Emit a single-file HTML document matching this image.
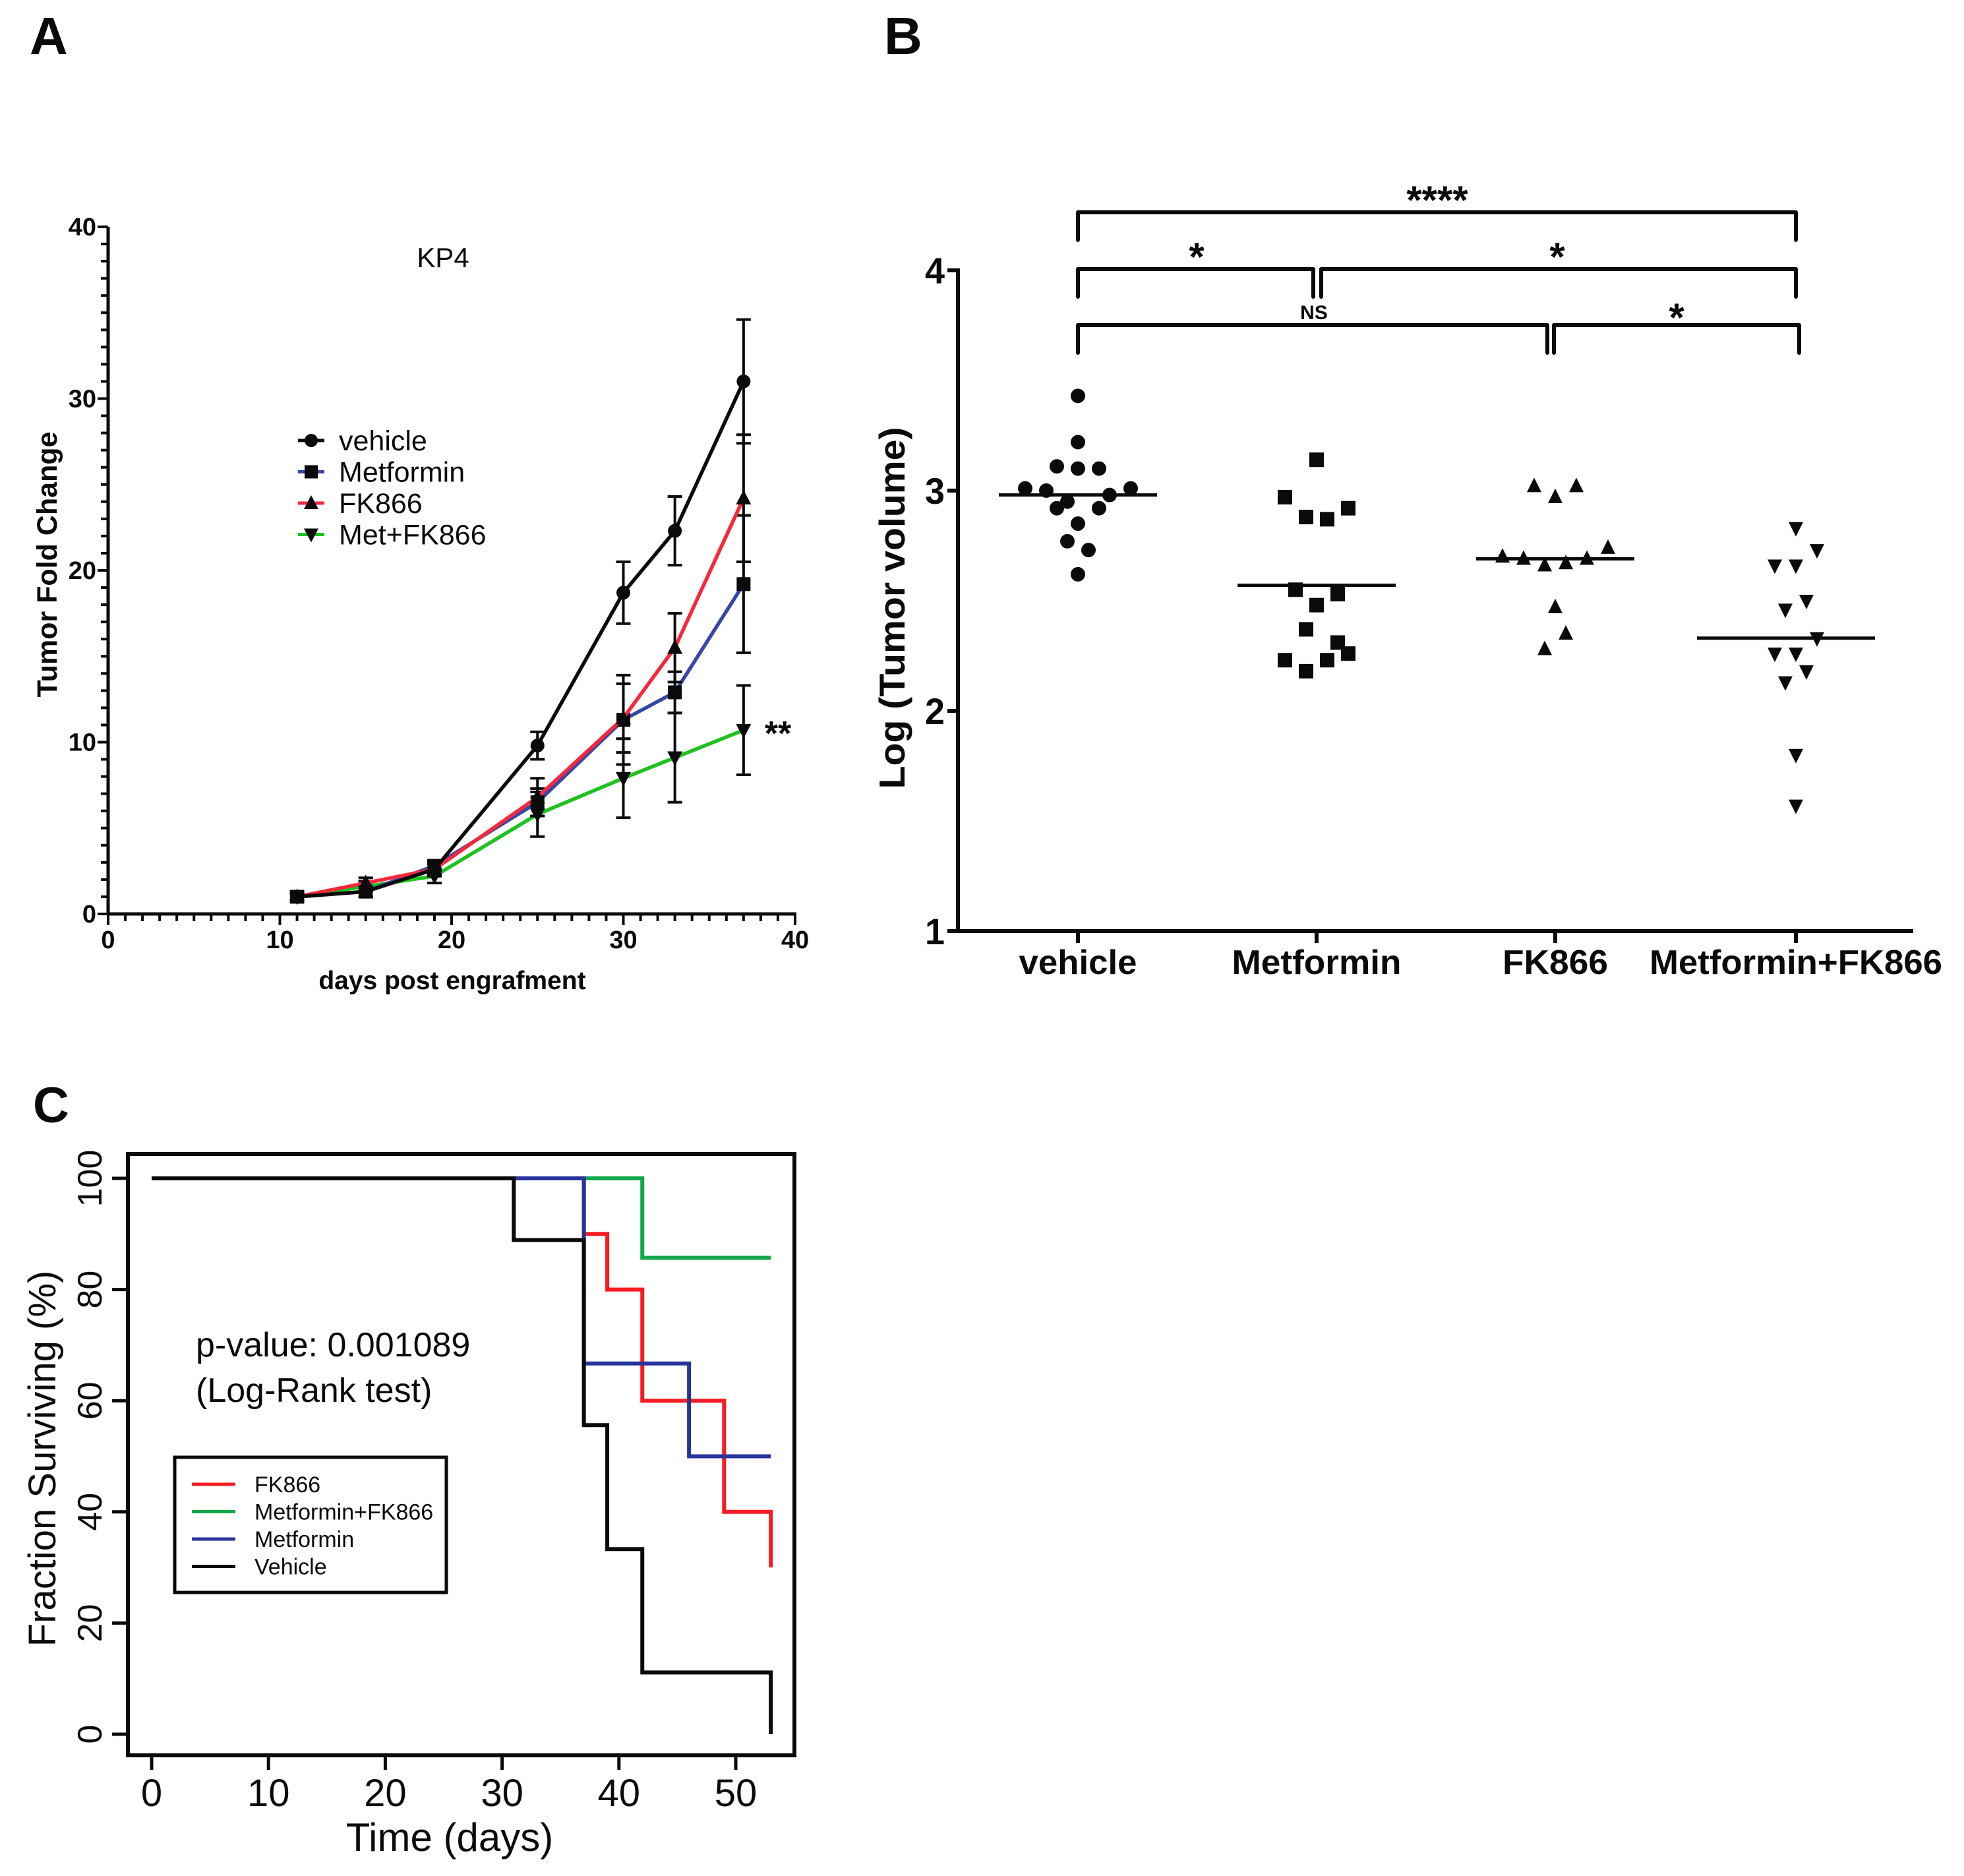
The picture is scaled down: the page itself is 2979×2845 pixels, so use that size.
<!DOCTYPE html>
<html><head><meta charset="utf-8"><style>
html,body{margin:0;padding:0;background:#fff;}
svg{display:block;}
text{font-family:"Liberation Sans",Arial,sans-serif;fill:#0a0a0a;}
</style></head><body>
<svg id="fig" xmlns="http://www.w3.org/2000/svg" width="2979" height="2845" viewBox="0 0 2979 2845">
<rect width="2979" height="2845" fill="#fff"/>
<text x="45" y="82" font-size="80" font-weight="bold">A</text>
<text x="1341" y="82" font-size="80" font-weight="bold">B</text>
<text x="50" y="1702" font-size="76" font-weight="bold">C</text>
<g id="pa"></g>
<g id="pb"></g>
<g id="pc" transform="translate(-6,-8)"></g>
</svg>
<script>
// ---------- Panel A data ----------
const aDays = [11, 15, 19, 25, 30, 33, 37];
const aVehicle = [1.0, 1.3, 2.6, 9.8, 18.7, 22.3, 31.0];
const aVehicleErr = [0.2, 0.3, 0.4, 0.8, 1.8, 2.0, 3.6];
const aMetformin = [1.0, 1.3, 2.8, 6.5, 11.3, 12.9, 19.2];
const aMetforminErr = [0.2, 0.3, 0.3, 0.8, 2.6, 1.2, 4.0];
const aFK866 = [1.0, 1.8, 2.6, 6.8, 11.4, 15.5, 24.2];
const aFK866Err = [0.2, 0.3, 0.3, 1.1, 2.0, 2.0, 3.7];
const aMetFK = [1.0, 1.6, 2.2, 5.8, 7.9, 9.1, 10.7];
const aMetFKErr = [0.2, 0.3, 0.4, 1.3, 2.3, 2.6, 2.6];
const aYTicks = [0, 10, 20, 30, 40];
const aXTicks = [0, 10, 20, 30, 40];
const aLegend = ["vehicle", "Metformin", "FK866", "Met+FK866"];

// ---------- Panel B data ----------
const bCategories = ["vehicle", "Metformin", "FK866", "Metformin+FK866"];
const bVehicle = [3.43, 3.22, 3.11, 3.10, 3.10, 3.01, 3.00, 3.01, 2.95, 2.98, 2.92, 2.92, 2.85, 2.77, 2.73, 2.62];
const bVehicleJit = [0, 0, -2, 0, 2, -5, -3, 5, -1, 3, -2, 2, 0, -1, 1, 0];
const bMetformin = [3.14, 2.97, 2.92, 2.88, 2.87, 2.55, 2.53, 2.48, 2.37, 2.31, 2.26, 2.23, 2.23, 2.18];
const bMetforminJit = [0, -3, 3, -1, 1, -2, 2, 0, -1, 2, 3, -3, 1, -1];
const bFK866 = [3.02, 3.02, 2.97, 2.70, 2.69, 2.66, 2.67, 2.69, 2.74, 2.47, 2.35, 2.28];
const bFK866Jit = [-2, 2, 0, -5, -3, -1, 1, 3, 5, 0, 1, -1];
const bMetFK = [2.83, 2.73, 2.66, 2.66, 2.50, 2.46, 2.33, 2.26, 2.26, 2.18, 2.13, 1.80, 1.57];
const bMetFKJit = [0, 2, -2, 0, 1, -1, 2, -2, 0, 1, -1, 0, 0];
const bMedians = [2.98, 2.57, 2.69, 2.33];
const bYTicks = [1, 2, 3, 4];

// ---------- Panel C data ----------
const cVehicleT = [0, 31, 37, 39, 42, 53];
const cVehicleS = [100, 88.9, 55.6, 33.3, 11.1, 0];
const cMetforminT = [0, 37, 46, 53];
const cMetforminS = [100, 66.7, 50, 50];
const cFK866T = [0, 37, 39, 42, 49, 53];
const cFK866S = [100, 90, 80, 60, 40, 30];
const cMetFKT = [0, 42, 53];
const cMetFKS = [100, 85.7, 85.7];
const cXTicks = [0, 10, 20, 30, 40, 50];
const cYTicks = [0, 20, 40, 60, 80, 100];
const cLegend = ["FK866", "Metformin+FK866", "Metformin", "Vehicle"];

const NS = "http://www.w3.org/2000/svg";
function mk(parent, tag, attrs, txt) {
  const e = document.createElementNS(NS, tag);
  for (const k in attrs) e.setAttribute(k, attrs[k]);
  if (txt !== undefined) e.textContent = txt;
  parent.appendChild(e);
  return e;
}
const BLK = "#0a0a0a";

// ================= Panel A =================
(function () {
  const g = document.getElementById("pa");
  const X = d => 164 + d * 26.05;
  const Y = v => 1386 - v * 26.05;
  let ax = mk(g, "line", {x1: 164, y1: 344, x2: 164, y2: 1388, stroke: BLK, "stroke-width": 5});
  
  
  ax = mk(g, "line", {x1: 162, y1: 1386, x2: 1208, y2: 1386, stroke: BLK, "stroke-width": 5});
  
  
  for (let v = 0; v <= 40; v++) {
    const major = v % 10 === 0;
    const t = mk(g, "line", {x1: 164 - (major ? 16 : 11), y1: Y(v), x2: 164, y2: Y(v), stroke: BLK, "stroke-width": 4});
    
    
    const u = mk(g, "line", {x1: X(v), y1: 1386, x2: X(v), y2: 1386 + (major ? 17 : 11), stroke: BLK, "stroke-width": 4});
    
    
  }
  aYTicks.forEach(v => {
    const t = mk(g, "text", {x: 146, y: Y(v) + 13, "font-size": 38, "font-weight": "bold", "text-anchor": "end"}, v);
    
    
  });
  aXTicks.forEach(v => {
    const t = mk(g, "text", {x: X(v), y: 1438, "font-size": 38, "font-weight": "bold", "text-anchor": "middle"}, v);
    
    
  });
  let t = mk(g, "text", {x: 686, y: 1500, "font-size": 39, "font-weight": "bold", "text-anchor": "middle"}, "days post engrafment");
  
  
  t = mk(g, "text", {x: 0, y: 0, "font-size": 43, "font-weight": "bold", "text-anchor": "middle", transform: "translate(86,856) rotate(-90)"}, "Tumor Fold Change");
  
  
  t = mk(g, "text", {x: 672, y: 405, "font-size": 42, "text-anchor": "middle"}, "KP4");
  
  

  function marker(parent, shape, cx, cy, s, color) {
    let m;
    if (shape === "circle") m = mk(parent, "circle", {cx: cx, cy: cy, r: s / 2, fill: color});
    else if (shape === "square") m = mk(parent, "rect", {x: cx - s / 2, y: cy - s / 2, width: s, height: s, fill: color});
    else if (shape === "up") m = mk(parent, "polygon", {points: `${cx},${cy - s * 0.6} ${cx - s * 0.55},${cy + s * 0.45} ${cx + s * 0.55},${cy + s * 0.45}`, fill: color});
    else m = mk(parent, "polygon", {points: `${cx},${cy + s * 0.6} ${cx - s * 0.55},${cy - s * 0.45} ${cx + s * 0.55},${cy - s * 0.45}`, fill: color});
    return m;
  }
  const series = [
    {name: "met-fk866", vals: aMetFK, err: aMetFKErr, col: "#1ec21e", shape: "down"},
    {name: "metformin", vals: aMetformin, err: aMetforminErr, col: "#3548a6", shape: "square"},
    {name: "fk866", vals: aFK866, err: aFK866Err, col: "#f5283c", shape: "up"},
    {name: "vehicle", vals: aVehicle, err: aVehicleErr, col: BLK, shape: "circle"}
  ];
  series.forEach(s => {
    const sg = mk(g, "g", {});
    
    
    aDays.forEach((d, i) => {
      const x = X(d), y1 = Y(s.vals[i] + s.err[i]), y2 = Y(s.vals[i] - s.err[i]);
      const e = mk(sg, "path", {d: `M${x},${y1}V${y2}M${x - 11},${y1}H${x + 11}M${x - 11},${y2}H${x + 11}`, stroke: BLK, "stroke-width": 4, fill: "none"});
      
      
    });
    const p = mk(sg, "polyline", {points: aDays.map((d, i) => X(d) + "," + Y(s.vals[i])).join(" "), fill: "none", stroke: s.col, "stroke-width": 5.5, "stroke-linejoin": "round"});
    
    
    aDays.forEach((d, i) => {
      const m = marker(sg, s.shape, X(d), Y(s.vals[i]), 21, BLK);
      
      
    });
  });
  t = mk(g, "text", {x: 1180, y: 1130, "font-size": 52, "font-weight": "bold", "text-anchor": "middle"}, "**");
  
  
  const legCols = [BLK, "#3548a6", "#f5283c", "#1ec21e"];
  const legShapes = ["circle", "square", "up", "down"];
  const lg = mk(g, "g", {});
  
  
  aLegend.forEach((name, i) => {
    const y = 668 + i * 47.5;
    const l = mk(lg, "line", {x1: 452, y1: y, x2: 492, y2: y, stroke: legCols[i], "stroke-width": 5});
    
    
    const m = marker(lg, legShapes[i], 472, y, 20, BLK);
    
    
    const tx = mk(lg, "text", {x: 514, y: y + 15, "font-size": 43}, name);
    
    
  });
})();

// ================= Panel B =================
(function () {
  const g = document.getElementById("pb");
  const cx = [1635, 1997, 2359, 2724];
  const Y = v => 1412 - (v - 1) * 334;
  let a = mk(g, "line", {x1: 1453, y1: 407, x2: 1453, y2: 1415, stroke: BLK, "stroke-width": 6});
  
  
  a = mk(g, "line", {x1: 1437, y1: 1412, x2: 2902, y2: 1412, stroke: BLK, "stroke-width": 6});
  
  
  bYTicks.forEach(v => {
    const t = mk(g, "line", {x1: 1437, y1: Y(v), x2: 1453, y2: Y(v), stroke: BLK, "stroke-width": 6});
    
    
    const l = mk(g, "text", {x: 1433, y: Y(v) + 20, "font-size": 56, "font-weight": "bold", "text-anchor": "end", textLength: 30, lengthAdjust: "spacingAndGlyphs"}, v);
    
    
  });
  const labW = [179, 257, 160, 444];
  bCategories.forEach((c, i) => {
    const t = mk(g, "line", {x1: cx[i], y1: 1412, x2: cx[i], y2: 1430, stroke: BLK, "stroke-width": 6});
    
    
    const l = mk(g, "text", {x: cx[i], y: 1477, "font-size": 52, "font-weight": "bold", "text-anchor": "middle", textLength: labW[i], lengthAdjust: "spacingAndGlyphs"}, c);
    
    
  });
  let t = mk(g, "text", {x: 0, y: 0, "font-size": 55, "font-weight": "bold", "text-anchor": "middle", textLength: 549, lengthAdjust: "spacingAndGlyphs", transform: "translate(1372,922) rotate(-90)"}, "Log (Tumor volume)");
  
  

  const groups = [
    {name: "vehicle", vals: bVehicle, jit: bVehicleJit, shape: "circle"},
    {name: "metformin", vals: bMetformin, jit: bMetforminJit, shape: "square"},
    {name: "fk866", vals: bFK866, jit: bFK866Jit, shape: "up"},
    {name: "metformin-fk866", vals: bMetFK, jit: bMetFKJit, shape: "down"}
  ];
  const J = 16;
  groups.forEach((gr, gi) => {
    const sg = mk(g, "g", {});
    
    
    gr.vals.forEach((v, i) => {
      const x = cx[gi] + gr.jit[i] * J, y = Y(v);
      let m;
      if (gr.shape === "circle") m = mk(sg, "circle", {cx: x, cy: y, r: 11, fill: BLK});
      else if (gr.shape === "square") m = mk(sg, "rect", {x: x - 11, y: y - 11, width: 22, height: 22, fill: BLK});
      else if (gr.shape === "up") m = mk(sg, "polygon", {points: `${x},${y - 13} ${x - 11},${y + 9} ${x + 11},${y + 9}`, fill: BLK});
      else m = mk(sg, "polygon", {points: `${x},${y + 13} ${x - 11},${y - 9} ${x + 11},${y - 9}`, fill: BLK});
      
      
    });
    const left = gi === 3 ? 150 : 120;
    const md = mk(sg, "line", {x1: cx[gi] - left, y1: Y(bMedians[gi]), x2: cx[gi] + 120, y2: Y(bMedians[gi]), stroke: BLK, "stroke-width": 5});
    
    
  });
  const brackets = [
    {x1: cx[0], x2: cx[3], y: 322, lab: "****", lx: 2180, ly: 324, fs: 60},
    {x1: cx[0], x2: cx[1] - 5, y: 408, lab: "*", lx: 1815, ly: 410, fs: 60},
    {x1: cx[1] + 7, x2: cx[3], y: 408, lab: "*", lx: 2362, ly: 410, fs: 60},
    {x1: cx[0], x2: cx[2] - 12, y: 493, lab: "NS", lx: 1993, ly: 484, fs: 30},
    {x1: cx[2] - 2, x2: cx[3] + 5, y: 493, lab: "*", lx: 2543, ly: 502, fs: 60}
  ];
  brackets.forEach(b => {
    const p = mk(g, "path", {d: `M${b.x1},${b.y + 42}V${b.y}H${b.x2}V${b.y + 42}`, stroke: BLK, "stroke-width": 6, fill: "none", "stroke-linejoin": "round", "stroke-linecap": "round"});
    
    
    const l = mk(g, "text", {x: b.lx, y: b.ly, "font-size": b.fs, "font-weight": "bold", "text-anchor": "middle"}, b.lab);
    
    
  });
})();

// ================= Panel C =================
(function () {
  const g = document.getElementById("pc");
  const X = d => 236 + d * 17.72;
  const Y = v => 2638 - v * 8.43;
  let b = mk(g, "rect", {x: 200, y: 1758, width: 1011, height: 912, fill: "none", stroke: BLK, "stroke-width": 6});
  
  
  cYTicks.forEach(v => {
    const t = mk(g, "line", {x1: 176, y1: Y(v), x2: 200, y2: Y(v), stroke: BLK, "stroke-width": 5});
    
    
    const l = mk(g, "text", {x: 0, y: 0, "font-size": 52, "text-anchor": "middle", transform: `translate(160,${Y(v)}) rotate(-90)`}, v);
    
    
  });
  cXTicks.forEach(v => {
    const t = mk(g, "line", {x1: X(v), y1: 2670, x2: X(v), y2: 2692, stroke: BLK, "stroke-width": 5});
    
    
    const l = mk(g, "text", {x: X(v), y: 2747, "font-size": 58, "text-anchor": "middle"}, v);
    
    
  });
  let t = mk(g, "text", {x: 688, y: 2815, "font-size": 60, "text-anchor": "middle"}, "Time (days)");
  
  
  t = mk(g, "text", {x: 0, y: 0, "font-size": 58, "text-anchor": "middle", transform: "translate(90,2220) rotate(-90)"}, "Fraction Surviving (%)");
  
  
  t = mk(g, "text", {x: 303, y: 2065, "font-size": 52}, "p-value: 0.001089");
  
  
  t = mk(g, "text", {x: 303, y: 2134, "font-size": 52}, "(Log-Rank test)");
  
  

  function step(T, S) {
    let d = `M${X(T[0])},${Y(S[0])}`;
    for (let i = 1; i < T.length; i++) {
      d += `H${X(T[i])}V${Y(S[i])}`;
    }
    return d;
  }
  const curves = [
    {name: "metformin-fk866", T: cMetFKT, S: cMetFKS, col: "#10a84a"},
    {name: "fk866", T: cFK866T, S: cFK866S, col: "#f51c24"},
    {name: "metformin", T: cMetforminT, S: cMetforminS, col: "#26349a"},
    {name: "vehicle", T: cVehicleT, S: cVehicleS, col: BLK}
  ];
  curves.forEach(c => {
    const p = mk(g, "path", {d: step(c.T, c.S), fill: "none", stroke: c.col, "stroke-width": 6});
    
    
  });
  const lg = mk(g, "g", {});
  
  
  const lb = mk(lg, "rect", {x: 271, y: 2218, width: 412, height: 205, fill: "#fff", stroke: BLK, "stroke-width": 5});
  
  
  const lcols = ["#f51c24", "#10a84a", "#26349a", BLK];
  cLegend.forEach((name, i) => {
    const y = 2259 + i * 41.5;
    const l = mk(lg, "line", {x1: 297, y1: y, x2: 363, y2: y, stroke: lcols[i], "stroke-width": 5});
    
    
    const tx = mk(lg, "text", {x: 392, y: y + 12, "font-size": 34}, name);
    
    
  });
})();
</script>
</body></html>
